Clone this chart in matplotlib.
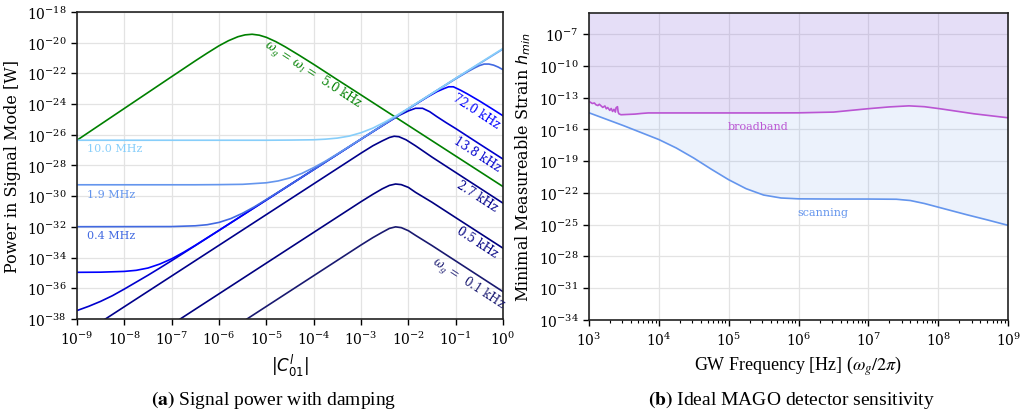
import numpy as np
import matplotlib
matplotlib.use("Agg")
import matplotlib.pyplot as plt
from matplotlib.ticker import LogLocator, NullLocator

plt.rcParams.update({
    "font.family": "DejaVu Serif",
    "mathtext.fontset": "dejavuserif",
    "axes.edgecolor": "#222222",
    "axes.linewidth": 1.2,
    "grid.color": "#e3e3e3",
    "grid.linewidth": 0.9,
    "xtick.direction": "out",
    "ytick.direction": "out",
})

# ---- (a) signal power, log10 values ----
green_x = [-9, -8, -7, -6.5, -6.25, -6, -5.8, -5.6, -5.45, -5.3, -5.15, -5.0, -4.8, -4.6,
           -4.3, -4, -3.5, -3, -2, -1, 0]
green_y = [-26.36, -24.29, -22.22, -21.19, -20.69, -20.21, -19.88, -19.62, -19.5, -19.46,
           -19.52, -19.66, -19.94, -20.28, -20.84, -21.42, -22.42, -23.41, -25.4, -27.39, -29.38]

w01_x = [-6, -5, -4, -3, -2.75, -2.55, -2.4, -2.27, -2.15, -2.0, -1.85, -1.5, -1, 0]
w01_y = [-39.18, -37.18, -35.18, -33.18, -32.7, -32.35, -32.1, -32.0, -32.05, -32.25, -32.55,
         -33.22, -34.22, -36.22]

w05_x = [-7, -6, -5, -4, -3, -2.75, -2.55, -2.4, -2.27, -2.15, -2.0, -1.85, -1.5, -1, 0]
w05_y = [-38.36, -36.36, -34.36, -32.36, -30.36, -29.88, -29.52, -29.3, -29.21, -29.25, -29.43,
         -29.75, -30.4, -31.4, -33.39]

w27_x = [-9, -8, -7, -6, -5, -4, -3, -2.75, -2.55, -2.4, -2.3, -2.2, -2.05, -1.85, -1.5, -1, 0]
w27_y = [-39.2, -37.2, -35.2, -33.2, -31.2, -29.2, -27.2, -26.72, -26.4, -26.18, -26.1, -26.13,
         -26.33, -26.72, -27.46, -28.46, -30.46]

w138_x = [-9, -8.75, -8.5, -8.25, -8, -7.75, -7.5, -7.25, -7, -6.5, -6, -5, -4, -3, -2.5, -2.2,
          -2.0, -1.85, -1.7, -1.55, -1.4, -1.2, -1, -0.5, 0]
w138_y = [-37.45, -37.17, -36.85, -36.48, -36.05, -35.6, -35.15, -34.68, -34.2, -33.22, -32.23,
          -30.25, -28.27, -26.29, -25.32, -24.75, -24.45, -24.28, -24.28, -24.5, -24.82, -25.22,
          -25.6, -26.6, -27.59]

w720_x = [-9, -8.5, -8, -7.75, -7.5, -7.25, -7, -6.75, -6.5, -6, -5, -4, -3, -2, -1.6, -1.4,
          -1.25, -1.15, -1.05, -0.9, -0.75, -0.5, -0.25, 0]
w720_y = [-34.96, -34.95, -34.9, -34.83, -34.68, -34.42, -34.08, -33.66, -33.2, -32.23, -30.25,
          -28.27, -26.29, -24.31, -23.55, -23.2, -23.0, -22.88, -22.88, -23.1, -23.35, -23.8,
          -24.28, -24.77]

w04m_x = [-9, -7, -6.5, -6.25, -6, -5.75, -5.5, -5.25, -5, -4.5, -4, -3, -2, -1.5, -1, -0.75,
          -0.6, -0.5, -0.4, -0.3, -0.2, -0.1, 0]
w04m_y = [-31.99, -31.98, -31.93, -31.86, -31.71, -31.46, -31.11, -30.69, -30.22, -29.26, -28.27,
          -26.29, -24.31, -23.32, -22.36, -21.9, -21.65, -21.5, -21.4, -21.4, -21.47, -21.6,
          -21.77]

w19m_x = [-9, -6.5, -6, -5.5, -5, -4.75, -4.5, -4.25, -4, -3.75, -3.5, -3, -2, -1, 0]
w19m_y = [-29.26, -29.26, -29.25, -29.23, -29.13, -29.01, -28.81, -28.52, -28.14, -27.72, -27.25,
          -26.28, -24.31, -22.33, -20.42]

w10m_x = [-9, -5, -4.5, -4, -3.75, -3.5, -3.25, -3, -2.75, -2.5, -2.25, -2, -1.5, -1, -0.5, 0]
w10m_y = [-26.36, -26.36, -26.35, -26.33, -26.29, -26.22, -26.09, -25.87, -25.57, -25.18, -24.75,
          -24.28, -23.31, -22.33, -21.35, -20.38]

curves = [
    (w01_x, w01_y, "midnightblue"),
    (w05_x, w05_y, "navy"),
    (w27_x, w27_y, "darkblue"),
    (w138_x, w138_y, "mediumblue"),
    (w720_x, w720_y, "blue"),
    (w04m_x, w04m_y, "royalblue"),
    (w19m_x, w19m_y, "cornflowerblue"),
    (w10m_x, w10m_y, "lightskyblue"),
]

# ---- (b) detector sensitivity, log10 values ----
broad_x = [3.0, 3.02, 3.05, 3.08, 3.1, 3.13, 3.15, 3.18, 3.2, 3.23, 3.25, 3.27, 3.3, 3.32, 3.34,
           3.36, 3.38, 3.39, 3.41, 3.42, 3.43, 3.46, 3.56, 3.66, 3.75, 3.85, 4.5, 5.0, 5.5, 6.0,
           6.5, 6.98, 7.3, 7.58, 7.8, 8.03, 8.51, 9.0]
broad_y = [-13.36, -13.42, -13.55, -13.5, -13.66, -13.74, -13.62, -13.8, -13.92, -13.78, -14.05,
           -13.93, -14.2, -14.02, -14.3, -14.1, -14.36, -13.95, -13.85, -14.36, -14.52, -14.61,
           -14.58, -14.55, -14.49, -14.44, -14.44, -14.44, -14.44, -14.43, -14.36, -14.05, -13.87,
           -13.77, -13.85, -14.05, -14.52, -14.9]

scan_x = [3.0, 3.5, 4.0, 4.25, 4.5, 4.75, 5.0, 5.25, 5.5, 5.75, 6.0, 6.5, 7.0, 7.4, 7.6, 7.8,
          8.0, 8.4, 8.7, 9.0]
scan_y = [-14.42, -15.65, -16.95, -17.75, -18.7, -19.75, -20.75, -21.6, -22.2, -22.48, -22.56,
          -22.58, -22.58, -22.6, -22.72, -23.0, -23.35, -24.05, -24.55, -25.07]

fig = plt.figure(figsize=(10.33, 4.14), dpi=100)
ax1 = fig.add_axes([0.0745, 0.227, 0.4125, 0.742])
ax2 = fig.add_axes([0.570, 0.225, 0.406, 0.741])

# panel (a)
ax1.plot(10.0 ** np.array(green_x), 10.0 ** np.array(green_y), color="green", lw=1.2)
for cx, cy, col in curves:
    ax1.plot(10.0 ** np.array(cx), 10.0 ** np.array(cy), color=col, lw=1.2)

ax1.set_xscale("log")
ax1.set_yscale("log")
ax1.set_xlim(1e-9, 1e0)
ax1.set_ylim(1e-38, 1e-18)
ax1.set_xticks([10.0 ** k for k in range(-9, 1)])
ax1.set_yticks([10.0 ** k for k in range(-38, -17, 2)])
ax1.xaxis.set_minor_locator(NullLocator())
ax1.yaxis.set_minor_locator(NullLocator())
ax1.grid(True)
ax1.set_axisbelow(True)
ax1.tick_params(labelsize=10, length=4, width=1)
ax1.set_ylabel("Power in Signal Mode [W]", fontsize=11.5)
ax1.set_xlabel(r"$|C_{01}^{l}|$", fontsize=12, math_fontfamily="dejavusans", labelpad=4)

rot = -33
ax1.text(10 ** -4.02, 10 ** -22.05, r"$\omega_g$ = $\omega_l$ =  5.0 kHz", color="green",
         fontsize=8.5, rotation=rot, ha="center", va="center")
right_labels = [
    (-0.56, -24.46, "72.0 kHz", "blue"),
    (-0.54, -27.26, "13.8 kHz", "mediumblue"),
    (-0.54, -29.99, "2.7 kHz", "darkblue"),
    (-0.54, -32.98, "0.5 kHz", "navy"),
    (-0.73, -35.65, r"$\omega_g$ =  0.1 kHz", "midnightblue"),
]
for lx, ly, txt, col in right_labels:
    ax1.text(10 ** lx, 10 ** ly, txt, color=col, fontsize=8.5, rotation=rot,
             ha="center", va="center")
left_labels = [
    (-26.87, "10.0 MHz", "lightskyblue"),
    (-29.84, "1.9 MHz", "cornflowerblue"),
    (-32.5, "0.4 MHz", "royalblue"),
]
for ly, txt, col in left_labels:
    ax1.text(10 ** -8.78, 10 ** ly, txt, color=col, fontsize=8, ha="left", va="center")

# panel (b)
bx = 10.0 ** np.array(broad_x)
by = 10.0 ** np.array(broad_y)
sx = 10.0 ** np.array(scan_x)
sy = 10.0 ** np.array(scan_y)
ax2.fill_between(sx, sy, 1e-5, color="cornflowerblue", alpha=0.12, lw=0)
ax2.fill_between(bx, by, 1e-5, color="mediumorchid", alpha=0.12, lw=0)
ax2.plot(bx, by, color="mediumorchid", lw=1.2)
ax2.plot(sx, sy, color="cornflowerblue", lw=1.2)
ax2.text(10 ** 5.42, 10 ** -15.67, "broadband", color="mediumorchid", fontsize=8,
         ha="center", va="center")
ax2.text(10 ** 6.35, 10 ** -23.76, "scanning", color="cornflowerblue", fontsize=8,
         ha="center", va="center")

ax2.set_xscale("log")
ax2.set_yscale("log")
ax2.set_xlim(1e3, 1e9)
ax2.set_ylim(1e-34, 1e-5)
ax2.set_xticks([10.0 ** k for k in range(3, 10)])
ax2.set_yticks([10.0 ** k for k in range(-34, -6, 3)])
ax2.xaxis.set_minor_locator(LogLocator(base=10, subs=np.arange(2, 10), numticks=20))
ax2.yaxis.set_minor_locator(NullLocator())
ax2.grid(True)
ax2.set_axisbelow(True)
ax2.tick_params(labelsize=10, length=4, width=1)
ax2.tick_params(which="minor", length=2.5, width=0.8)
ax2.set_ylabel(r"Minimal Measureable Strain $h_{min}$", fontsize=11.5,
               math_fontfamily="dejavusans")
ax2.set_xlabel(r"GW Frequency [Hz] ($\omega_g/2\pi$)", fontsize=13,
               family="Liberation Serif", math_fontfamily="stix", labelpad=4)

# captions
fig.text(0.265, 0.035, r"$\mathbf{(a)}$ Signal power with damping", fontsize=14,
         family="Liberation Serif", math_fontfamily="stix", ha="center", va="center")
fig.text(0.766, 0.035, r"$\mathbf{(b)}$ Ideal MAGO detector sensitivity", fontsize=14,
         family="Liberation Serif", math_fontfamily="stix", ha="center", va="center")

plt.savefig("out.png", dpi=100)
